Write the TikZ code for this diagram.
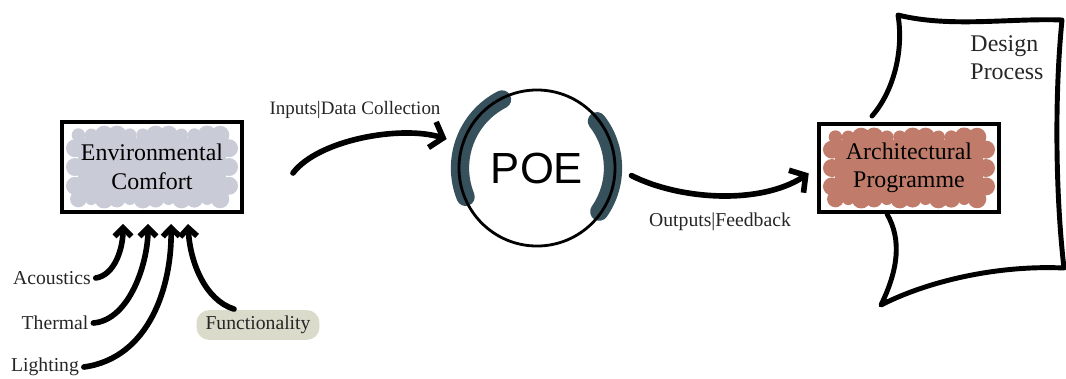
\documentclass[tikz,border=0pt]{standalone}
\usepackage{fontspec}
\setmainfont{Liberation Serif}
\newfontfamily\poefont{Liberation Sans}
\definecolor{CloudGrey}{HTML}{C9CBD6}
\definecolor{CloudSage}{HTML}{DADBCB}
\definecolor{CloudBrick}{HTML}{C07B6B}
\definecolor{MarkTeal}{HTML}{36505C}
\usepackage{tikz}
\usetikzlibrary{arrows.meta,calc,backgrounds}

\begin{document}
\begin{tikzpicture}[
        x=0.025cm, y=-0.025cm,
        box/.style={draw=black, line width=2.8pt, minimum width=4.5cm, minimum height=2.25cm,
                    align=center, font=\fontsize{17}{21}\selectfont},
        lab/.style={font=\fontsize{14}{17}\selectfont, text=black!85},
        arr/.style={-{Straight Barb[length=6pt,width=12pt]}, line width=4pt,
                    line cap=round, line join=round},
        bigarr/.style={arr, -{Straight Barb[length=8pt,width=19pt]}},
        tealarc/.style={MarkTeal, line width=13pt, line cap=round}
    ]
        \useasboundingbox (0,0) rectangle (1066,378);
        % boxes and the circle
        \node[box] (env) at (152,167) {Environmental\\Comfort};
        \node[box, minimum height=2.2cm, font=\fontsize{17}{20}\selectfont] (arch) at (909,168) {Architectural\\Programme};
        \node[draw, circle, line width=2pt, minimum size=3.9cm,
              font=\poefont\fontsize{31}{31}\selectfont] (poe) at (537,168) {POE};
        % labels
        \node[lab] (acoustics) at (52,278) {Acoustics};
        \node[lab] (thermal) at (55,323) {Thermal};
        \node[lab] (lighting) at (45,367) {Lighting};
        \node[lab] (functionality) at (258,325) {Functionality};
        \node[lab, font=\fontsize{13.5}{16}\selectfont] (inputs) at (355,110) {Inputs|Data Collection};
        \node[lab] (outputs) at (720,222) {Outputs|Feedback};
        \node[lab, font=\fontsize{17}{20}\selectfont, align=left] (design) at (1007,58) {Design\\Process};
        \coordinate (instart) at (293,173);

        \begin{scope}[on background layer]
            % scribbled fills
            \foreach \n/\c in {env/CloudGrey, arch/CloudBrick} {
                \fill[\c] ($(\n.south west)+(18,-18)$) rectangle ($(\n.north east)+(-18,18)$);
                \foreach \t in {0.1,0.17,...,0.92} {
                    \fill[\c] ($(\n.south west)!\t!(\n.south east)+(0,-15)$) circle[radius={8+2*sin(\t*1700)}];
                    \fill[\c] ($(\n.north west)!\t!(\n.north east)+(0,15)$) circle[radius={8+2*cos(\t*1300)}];
                }
                \foreach \t in {0.3,0.5,0.7} {
                    \fill[\c] ($(\n.south west)!\t!(\n.north west)+(15,0)$) circle[radius=9];
                    \fill[\c] ($(\n.south east)!\t!(\n.north east)+(-15,0)$) circle[radius=9];
                }
            }
            \fill[CloudSage, rounded corners=9pt] ($(functionality.south west)+(-4,1)$) rectangle ($(functionality.north east)+(4,-1)$);
            \draw[tealarc] ($(poe.center)+(-117:77)$) arc[start angle=-117, end angle=-202, radius=77];
            \draw[tealarc] ($(poe.center)+(-38:76)$) arc[start angle=-38, end angle=35, radius=76];
        \end{scope}

        % inputs into the comfort box
        \draw[arr] (acoustics.east) .. controls (115,275) and (123,248) .. ($(env.south west)+(63,10)$);
        \draw[arr] (thermal.east) .. controls (130,320) and (148,262) .. ($(env.south west)+(88,10)$);
        \draw[arr] (lighting.east) .. controls (150,358) and (172,285) .. ($(env.south west)+(111,10)$);
        \draw[arr] ($(functionality.north)+(-24,-2)$) .. controls (205,300) and (190,262) .. ($(env.south west)+(128,10)$);

        % into and out of the POE
        \draw[bigarr, shorten >=11pt] (instart) .. controls (318,140) and (400,125) .. (poe.162);
        \draw[bigarr, shorten <=12pt, shorten >=7pt] (poe.east) .. controls (680,200) and (760,205) .. (arch.west);

        % design process outline
        \draw[line width=3.5pt, line join=round, line cap=round]
            ($(arch.north)+(-37,-6)$) .. controls (893,92) and (904,52) .. (898,15)
            .. controls (950,28) and (1010,18) .. (1062,20)
            .. controls (1054,100) and (1056,200) .. (1064,268)
            .. controls (1000,265) and (930,280) .. (881,305)
            .. controls (898,270) and (902,240) .. ($(arch.south)+(-22,0)$);
    \end{tikzpicture}
\end{document}
